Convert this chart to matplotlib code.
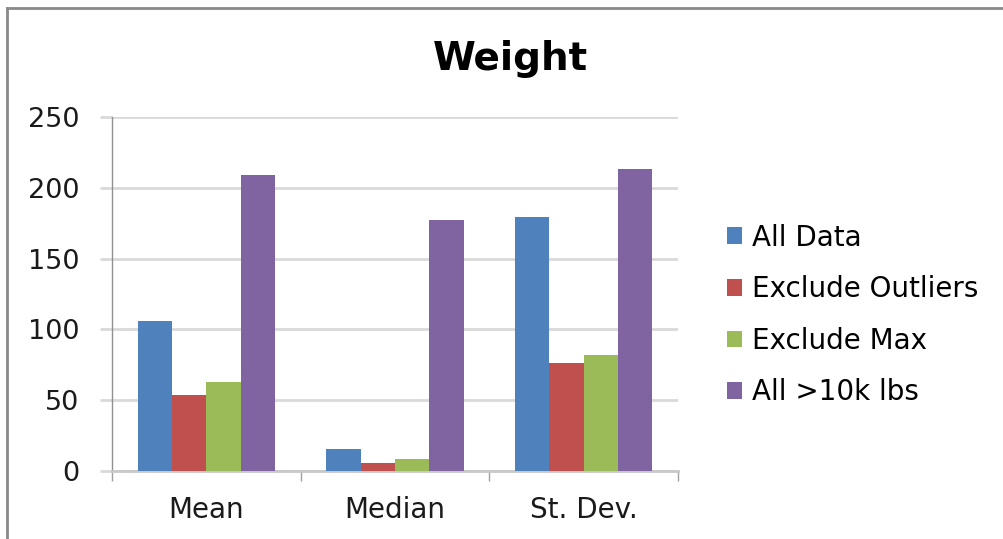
import matplotlib
matplotlib.use("Agg")
import matplotlib.pyplot as plt
import numpy as np
from matplotlib.lines import Line2D

# Summary statistics of weight, per data subset
categories = ["Mean", "Median", "St. Dev."]
series_names = ["All Data", "Exclude Outliers", "Exclude Max", "All >10k lbs"]
all_data = [106, 15.5, 179.5]
exclude_outliers = [53.6, 6, 76.5]
exclude_max = [62.6, 8.5, 81.6]
all_over_10k = [209, 177, 213]
y_ticks = [0, 50, 100, 150, 200, 250]

colors = ["#4F81BD", "#C0504D", "#9BBB59", "#8064A2"]
series = [all_data, exclude_outliers, exclude_max, all_over_10k]

plt.rcParams["font.family"] = ["DejaVu Sans"]

fig = plt.figure(figsize=(10.04, 5.39), dpi=100)
ax = fig.add_axes([112 / 1004, 1 - 471 / 539, 566 / 1004, 354 / 539])

# Excel-style clustered columns: gap width 150% -> 4 bars + 1.5 bar gap per category
x = np.arange(len(categories))
w = 1 / 5.5
for i, (vals, col, name) in enumerate(zip(series, colors, series_names)):
    ax.bar(x + (i - 1.5) * w, vals, width=w, color=col, label=name,
           edgecolor="none", zorder=3)

ax.set_xlim(-0.5, len(categories) - 0.5)
ax.set_ylim(0, 250)
ax.set_yticks(y_ticks)
ax.yaxis.grid(True, color="#d9d9d9", linewidth=2, zorder=0)
ax.set_axisbelow(True)

# tick marks at the category boundaries, labels in the middle
ax.set_xticks(np.arange(len(categories) + 1) - 0.5)
ax.set_xticklabels([])
ax.set_xticks(x, minor=True)
ax.set_xticklabels(categories, minor=True)
ax.tick_params(axis="x", which="major", direction="out", length=7,
               color="#a0a0a0", width=1)
ax.tick_params(axis="x", which="minor", length=0, pad=18, labelsize=20,
               labelcolor="#1a1a1a")
ax.tick_params(axis="y", direction="out", length=8.5, color="#d9d9d9",
               width=2, pad=15, labelsize=19.5, labelcolor="#1a1a1a")

for side in ["top", "right"]:
    ax.spines[side].set_visible(False)
ax.spines["left"].set_color("#909090")
ax.spines["left"].set_linewidth(1)
ax.spines["bottom"].set_color("#c8c8c8")
ax.spines["bottom"].set_linewidth(2)

fig.text(510 / 1004, 1 - 70 / 539, "Weight", ha="center", va="baseline",
         fontsize=28, fontweight="bold", color="black")

fig.legend(loc="center left", bbox_to_anchor=(727 / 1004, 1 - 315 / 539),
           frameon=False, fontsize=20, handlelength=0.54, handleheight=0.54,
           handletextpad=0.36, labelspacing=0.85, borderaxespad=0,
           borderpad=0)

# chart border (only the top and left edges are inside the image)
fig.add_artist(Line2D([7.5 / 1004, 7.5 / 1004], [0, 1 - 7.5 / 539],
                      transform=fig.transFigure, color="#8a8a8a", lw=2))
fig.add_artist(Line2D([7.5 / 1004, 1], [1 - 7.5 / 539, 1 - 7.5 / 539],
                      transform=fig.transFigure, color="#8a8a8a", lw=2))

fig.savefig("out.png", dpi=100)
